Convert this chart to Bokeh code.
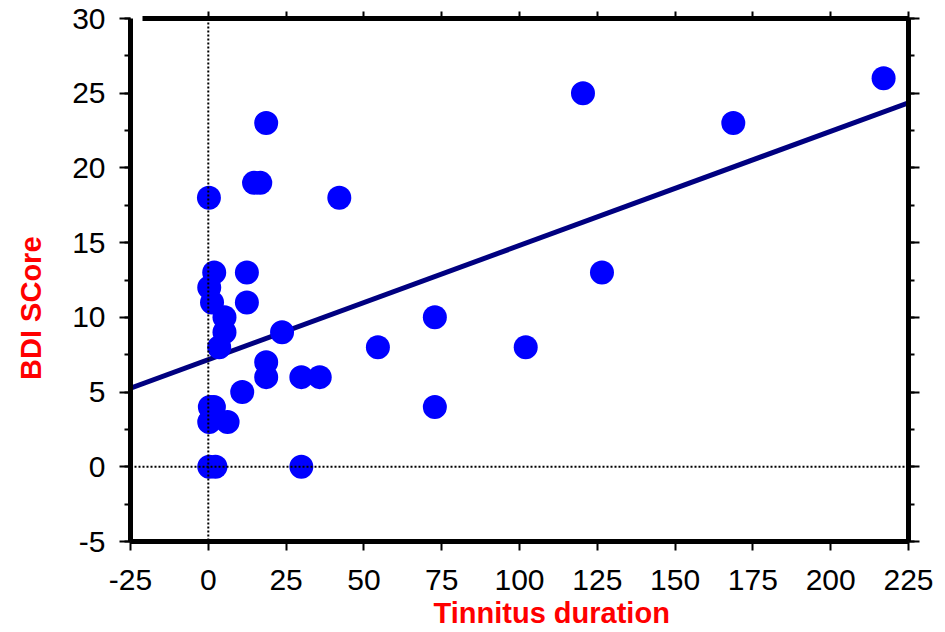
from bokeh.plotting import figure
from bokeh.models import (Range1d, LinearAxis, SingleIntervalTicker, Span,
                          ColumnDataSource, CustomJSTickFormatter)
from bokeh.embed import file_html
from bokeh.resources import INLINE

# ---- data ----
duration = [217, 168.7, 120.4, 126.5, 102, 72.8, 72.8, 54.5, 42.1, 18.6,
            14.7, 16.7, 0.2, 1.9, 12.4, 0.3, 1.2, 12.4, 5.2, 5.2,
            3.5, 23.7, 18.6, 18.6, 29.9, 35.8, 10.9, 0.5, 1.8, 0.3,
            6.2, 0.3, 2.3, 29.9]
bdi = [26, 23, 25, 13, 8, 10, 4, 8, 18, 23,
       19, 19, 18, 13, 13, 12, 11, 11, 10, 9,
       8, 9, 7, 6, 6, 6, 5, 4, 4, 3,
       3, 0, 0, 0]
fit_x = [-25, 225]
fit_y = [5.26, 24.36]
x_title = "Tinnitus duration"
y_title = "BDI SCore"

FONT = "Liberation Sans"
NB = "\u00a0"

p = figure(width=945, height=632, output_backend="svg", toolbar_location=None,
           x_range=Range1d(-25, 225), y_range=Range1d(-5, 30),
           x_axis_location=None, y_axis_location=None,
           min_border_left=130, min_border_right=37, min_border_top=18,
           min_border_bottom=91)
p.outline_line_color = None
p.grid.visible = False
p.background_fill_color = "white"
p.border_fill_color = "white"

num_fmt = lambda: CustomJSTickFormatter(code="return tick.toFixed(0);")
blank_fmt = lambda: CustomJSTickFormatter(code="return '';")

def style(ax, labels=True):
    ax.axis_line_width = 5
    ax.axis_line_color = "black"
    ax.major_tick_line_width = 2
    ax.minor_tick_line_width = 2
    ax.major_tick_in = 0
    ax.minor_tick_in = 0
    ax.major_label_text_font = FONT
    ax.major_label_text_color = "black"
    if labels:
        ax.formatter = num_fmt()
        ax.major_label_text_font_size = "30px"
    else:
        ax.formatter = blank_fmt()
        ax.major_label_text_font_size = "1px"
    ax.axis_label_text_font = FONT
    ax.axis_label_text_font_size = "29px"
    ax.axis_label_text_font_style = "bold"
    ax.axis_label_text_color = "#FF0000"

xt = lambda: SingleIntervalTicker(interval=25, num_minor_ticks=0)
yt = lambda: SingleIntervalTicker(interval=5, num_minor_ticks=2)

bottom = LinearAxis(ticker=xt(), axis_label=NB * 8 + x_title)
style(bottom)
bottom.major_tick_out = 9
bottom.major_label_standoff = 19
bottom.axis_label_standoff = 4
p.add_layout(bottom, "below")

top = LinearAxis(ticker=xt(), bounds=(-21, 225))
style(top, labels=False)
top.major_tick_out = 7
top.major_label_standoff = 0
p.add_layout(top, "above")

left = LinearAxis(ticker=yt(), axis_label=y_title + NB * 7)
style(left)
left.major_tick_out = 11
left.minor_tick_out = 6
left.major_label_standoff = 14
left.axis_label_standoff = 22
p.add_layout(left, "left")

right = LinearAxis(ticker=yt())
style(right, labels=False)
right.major_tick_out = 11
right.minor_tick_out = 6
right.major_label_standoff = 0
p.add_layout(right, "right")

p.add_layout(Span(location=0, dimension="height", line_color="black",
                  line_width=2, line_dash="2 2"))
p.add_layout(Span(location=0, dimension="width", line_color="black",
                  line_width=2, line_dash="2 2"))

p.line(fit_x, fit_y, line_color="#000080", line_width=5)

src = ColumnDataSource(dict(x=duration, y=bdi))
p.scatter("x", "y", source=src, size=24, fill_color="#0000FF",
          line_color=None)

open("out.html", "w").write(file_html(p, INLINE))
